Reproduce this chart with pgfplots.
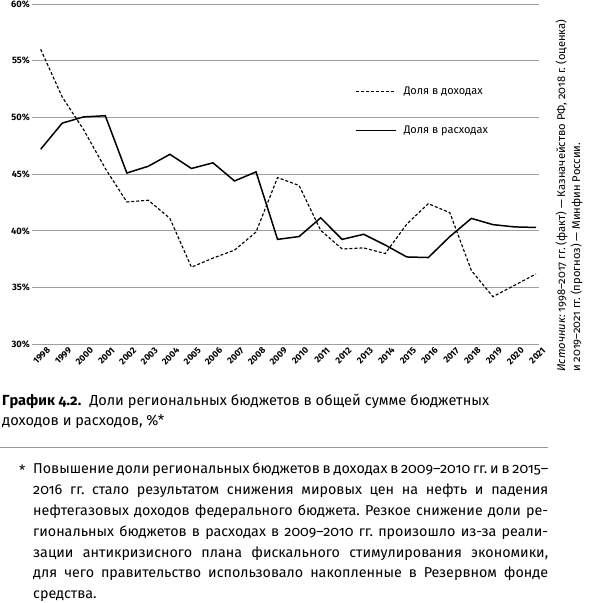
\documentclass[border=0pt]{standalone}
\usepackage{pgfplots}
\pgfplotsset{compat=1.18}
\usepackage{pgfplotstable}
\usepackage{fontspec}
\setmainfont{Fira Sans}[Numbers=OldStyle]
\newfontfamily\tickfont{Fira Sans}[Numbers=Lining]
\frenchspacing

% shares of regional budgets, %
\pgfplotstableread{
idx income spend
0  56.0  47.2
1  51.8  49.5
2  48.9  50.05
3  45.5  50.15
4  42.55 45.1
5  42.7  45.7
6  41.1  46.75
7  36.8  45.5
8  37.6  46.0
9  38.3  44.4
10 39.9  45.2
11 44.7  39.25
12 44.0  39.5
13 40.05 41.15
14 38.4  39.25
15 38.5  39.7
16 38.0  38.75
17 40.6  37.7
18 42.4  37.65
19 41.6  39.5
20 36.5  41.1
21 34.2  40.55
22 35.2  40.35
23 36.2  40.3
}\shares

\newcommand\jl[1]{\hbox to 515pt{#1}}

\begin{document}
\begin{tikzpicture}[x=1pt,y=1pt]
\useasboundingbox (0,0) rectangle (590,-603);
\begin{axis}[
    at={(32.3pt,-344.3pt)}, anchor=south west,
    scale only axis, width=506.7pt, height=340.3pt,
    xmin=-0.39, xmax=23.14, ymin=30, ymax=60,
    axis line style={draw=none},
    major tick length=0pt,
    ytick={30,35,...,60},
    ymajorgrids,
    grid style={gray!75, line width=0.9pt},
    /pgf/number format/assume math mode=true,
    yticklabel={\pgfmathprintnumber{\tick}\%},
    yticklabel style={font=\tickfont\bfseries\fontsize{9.3}{10}\selectfont, xshift=1pt},
    xtick={0,...,23},
    xticklabels={1998,1999,2000,2001,2002,2003,2004,2005,2006,2007,2008,2009,
                 2010,2011,2012,2013,2014,2015,2016,2017,2018,2019,2020,2021},
    xticklabel style={font=\tickfont\bfseries\fontsize{9}{10}\selectfont,
                      rotate=45, anchor=north east, inner sep=0pt,
                      xshift=2.5pt, yshift=-5.5pt},
    legend style={at={(0.637,0.685)}, anchor=west, draw=none, fill=none,
                  inner sep=0pt, row sep=30pt, column sep=7pt,
                  font=\fontsize{11}{12}\selectfont, nodes={inner sep=0pt}},
    legend cell align=left,
    legend image code/.code={\draw[#1] (0pt,0pt) -- (40pt,0pt);},
]
\addplot[black, line width=1.15pt, densely dashed] table[x=idx, y=income] {\shares};
\addlegendentry{Доля в доходах}
\addplot[black, line width=1.5pt] table[x=idx, y=spend] {\shares};
\addlegendentry{Доля в расходах}
\end{axis}

% source, rotated
\node[rotate=90, anchor=base west, inner sep=0pt, font=\fontsize{11.2}{12}\selectfont]
  at (565,-372) {\textit{Источник:} 1998–2017 гг. (факт) — Казначейство РФ, 2018 г. (оценка)};
\node[rotate=90, anchor=base west, inner sep=0pt, font=\fontsize{11.2}{12}\selectfont]
  at (580,-372) {и 2019–2021 гг. (прогноз) — Минфин России.};

% caption
\node[anchor=base west, inner sep=0pt, font=\fontsize{14.6}{16}\selectfont]
  at (2,-405) {\textbf{График 4.2.}\hspace{0.3em} Доли региональных бюджетов в общей сумме бюджетных};
\node[anchor=base west, inner sep=0pt, font=\fontsize{14.6}{16}\selectfont]
  at (2,-425) {доходов и расходов, \%*};

\draw[gray!80, line width=0.8pt] (0,-447.3) -- (548,-447.3);

% footnote
\node[anchor=base west, inner sep=0pt, font=\fontsize{14.3}{16}\selectfont] at (19,-475) {*};
\node[anchor=north west, inner sep=0pt, font=\fontsize{14.3}{16}\selectfont] at (33,-463) {%
  \vbox{\baselineskip=20.8pt
  \jl{Повышение доли региональных бюджетов в доходах в 2009–2010 гг. и в 2015–}
  \jl{2016 гг. стало результатом снижения мировых цен на нефть и падения}
  \jl{нефтегазовых доходов федерального бюджета. Резкое снижение доли ре-}
  \jl{гиональных бюджетов в расходах в 2009–2010 гг. произошло из-за реали-}
  \jl{зации антикризисного плана фискального стимулирования экономики,}
  \jl{для чего правительство использовало накопленные в Резервном фонде}
  \hbox{средства.}}};
\end{tikzpicture}
\end{document}
